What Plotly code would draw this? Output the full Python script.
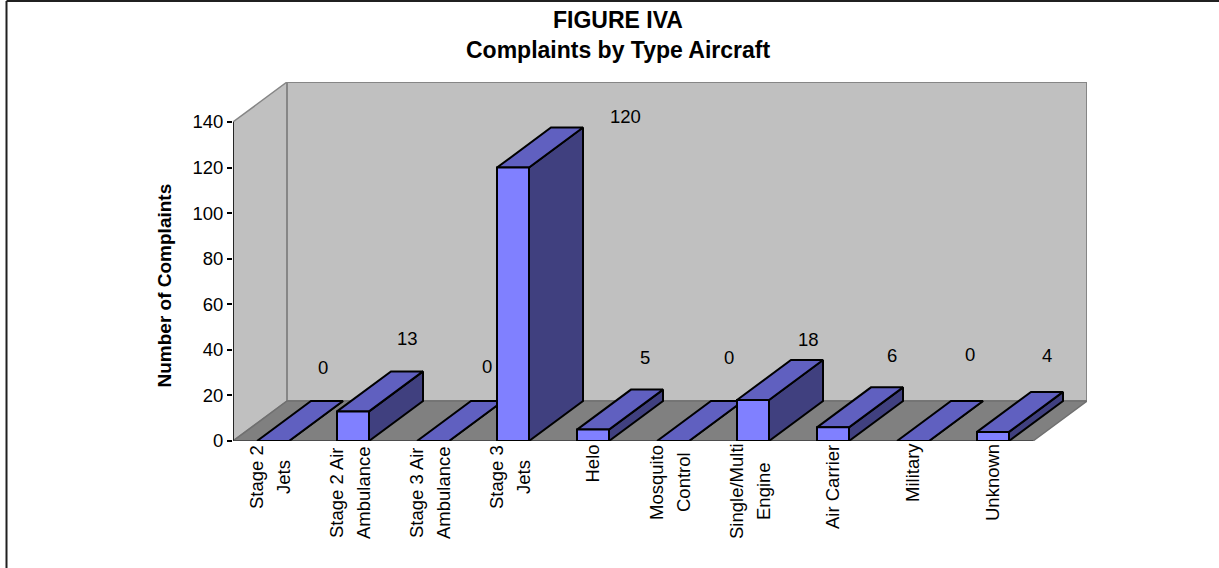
import plotly.graph_objects as go

CATEGORIES = [
    ['Stage 2', 'Jets'],
    ['Stage 2 Air', 'Ambulance'],
    ['Stage 3 Air', 'Ambulance'],
    ['Stage 3', 'Jets'],
    ['Helo'],
    ['Mosquito', 'Control'],
    ['Single/Multi', 'Engine'],
    ['Air Carrier'],
    ['Military'],
    ['Unknown'],
]
COMPLAINTS = [0, 13, 0, 120, 5, 0, 18, 6, 0, 4]
Y_TICKS = [0, 20, 40, 60, 80, 100, 120, 140]

# length in px of the longest line of each rotated label, they hang from the axis
LABEL_SPANS = [65, 95, 95, 65, 37, 75, 93, 84, 56, 76]
# where Excel dropped the value labels, px from the back top corner of the bar
VALUE_DX = [-4, 0, 0, 58, -2, 2, 1, 5, 3, 0]
VALUE_DY = [34, 33, 35, 11, 32, 44, 20, 32, 47, 36]

FONT = 'Liberation Sans'
TEXT_SIZE = 18.5
FRONT = '#8080ff'
TOP = '#6060c0'
SIDE = '#40407f'
WALL = '#c0c0c0'
FLOOR = '#808080'
WALL_LINE = '#868686'

WIDTH, HEIGHT = 1219, 568
LEFT, RIGHT, TOP_M, BOTTOM = 233, 132, 82, 127
BAR_W = 0.4
DEPTH_X = 0.675
DEPTH_Y = 17.55
Y_MAX = 140
X_MAX = len(COMPLAINTS)


def poly(fig, xs, ys, fill, line='black', width=2):
    fig.add_trace(go.Scatter(
        x=xs + xs[:1], y=ys + ys[:1], mode='lines', fill='toself', fillcolor=fill,
        line=dict(color=line, width=width), cliponaxis=False, hoverinfo='skip', showlegend=False))


def line(fig, xs, ys, color, width):
    fig.add_trace(go.Scatter(
        x=xs, y=ys, mode='lines', line=dict(color=color, width=width),
        cliponaxis=False, hoverinfo='skip', showlegend=False))


fig = go.Figure()

# walls and floor of the 3d box
poly(fig, [0, DEPTH_X, DEPTH_X, 0], [0, DEPTH_Y, DEPTH_Y + Y_MAX, Y_MAX], WALL, WALL_LINE, 1.5)
poly(fig, [DEPTH_X, DEPTH_X + X_MAX, DEPTH_X + X_MAX, DEPTH_X],
     [DEPTH_Y, DEPTH_Y, DEPTH_Y + Y_MAX, DEPTH_Y + Y_MAX], WALL, WALL_LINE, 2)
poly(fig, [0, X_MAX, X_MAX + DEPTH_X, DEPTH_X], [0, 0, DEPTH_Y, DEPTH_Y], FLOOR, '#707070', 1.5)

line(fig, [0, 0], [0, Y_MAX], 'black', 1.5)
line(fig, [0, X_MAX], [0, 0], '#404040', 1.5)

# bars left to right so that each front hides the one before it
for i, v in enumerate(COMPLAINTS):
    x0 = i + 0.5 - BAR_W / 2
    x1 = i + 0.5 + BAR_W / 2
    poly(fig, [x1, x1 + DEPTH_X, x1 + DEPTH_X, x1], [0, DEPTH_Y, v + DEPTH_Y, v], SIDE)
    poly(fig, [x0, x1, x1 + DEPTH_X, x0 + DEPTH_X], [v, v, v + DEPTH_Y, v + DEPTH_Y], TOP)
    poly(fig, [x0, x1, x1, x0], [0, 0, v, v], FRONT)

annotations = []

for i, v in enumerate(COMPLAINTS):
    annotations.append(dict(
        x=i + 0.5 + DEPTH_X, y=v + DEPTH_Y, xref='x', yref='y', text=str(v), showarrow=False,
        xshift=VALUE_DX[i], yshift=VALUE_DY[i], font=dict(family=FONT, size=TEXT_SIZE, color='black')))

for i, lines in enumerate(CATEGORIES):
    for j, text in enumerate(lines):
        shift = -1 if len(lines) == 1 else -3 + (j - 0.5) * 27
        annotations.append(dict(
            x=i + 0.5, y=0, xref='x', yref='y', text=text, textangle=-90, showarrow=False,
            xshift=shift, yshift=-(4 + LABEL_SPANS[i] / 2), yanchor='middle',
            font=dict(family=FONT, size=TEXT_SIZE, color='black')))


def px(x):
    return (x - LEFT) / (WIDTH - LEFT - RIGHT)


def py(y):
    return 1 - (y - TOP_M) / (HEIGHT - TOP_M - BOTTOM)


annotations.append(dict(
    x=px(618), y=py(20), xref='paper', yref='paper', xanchor='center', yanchor='middle',
    text='<b>FIGURE IVA</b>', showarrow=False, font=dict(family=FONT, size=23, color='black')))
annotations.append(dict(
    x=px(618), y=py(50), xref='paper', yref='paper', xanchor='center', yanchor='middle',
    text='<b>Complaints by Type Aircraft</b>', showarrow=False, font=dict(family=FONT, size=23, color='black')))
annotations.append(dict(
    x=px(164), y=py(285.5), xref='paper', yref='paper', xanchor='center', yanchor='middle',
    text='<b>Number of Complaints</b>', textangle=-90, showarrow=False,
    font=dict(family=FONT, size=19, color='black')))

fig.update_layout(
    width=WIDTH, height=HEIGHT,
    margin=dict(l=LEFT, r=RIGHT, t=TOP_M, b=BOTTOM, autoexpand=False),
    paper_bgcolor='white', plot_bgcolor='white',
    showlegend=False,
    annotations=annotations,
    xaxis=dict(range=[0, X_MAX + DEPTH_X], visible=False, fixedrange=True),
    yaxis=dict(range=[0, Y_MAX + DEPTH_Y], tickvals=Y_TICKS, ticks='outside', ticklen=5, tickwidth=1.5,
               tickcolor='black', showgrid=False, zeroline=False, showline=False, fixedrange=True,
               tickfont=dict(family=FONT, size=TEXT_SIZE, color='black')),
    shapes=[
        dict(type='line', xref='paper', yref='paper', x0=px(6.5), x1=px(6.5), y0=py(1), y1=py(568),
             line=dict(color='#202020', width=2)),
        dict(type='line', xref='paper', yref='paper', x0=px(6.5), x1=px(1219), y0=py(1), y1=py(1),
             line=dict(color='#202020', width=2)),
    ],
)

fig.write_html("out.html", config=dict(displayModeBar=False), post_script="document.body.style.margin='0';")
